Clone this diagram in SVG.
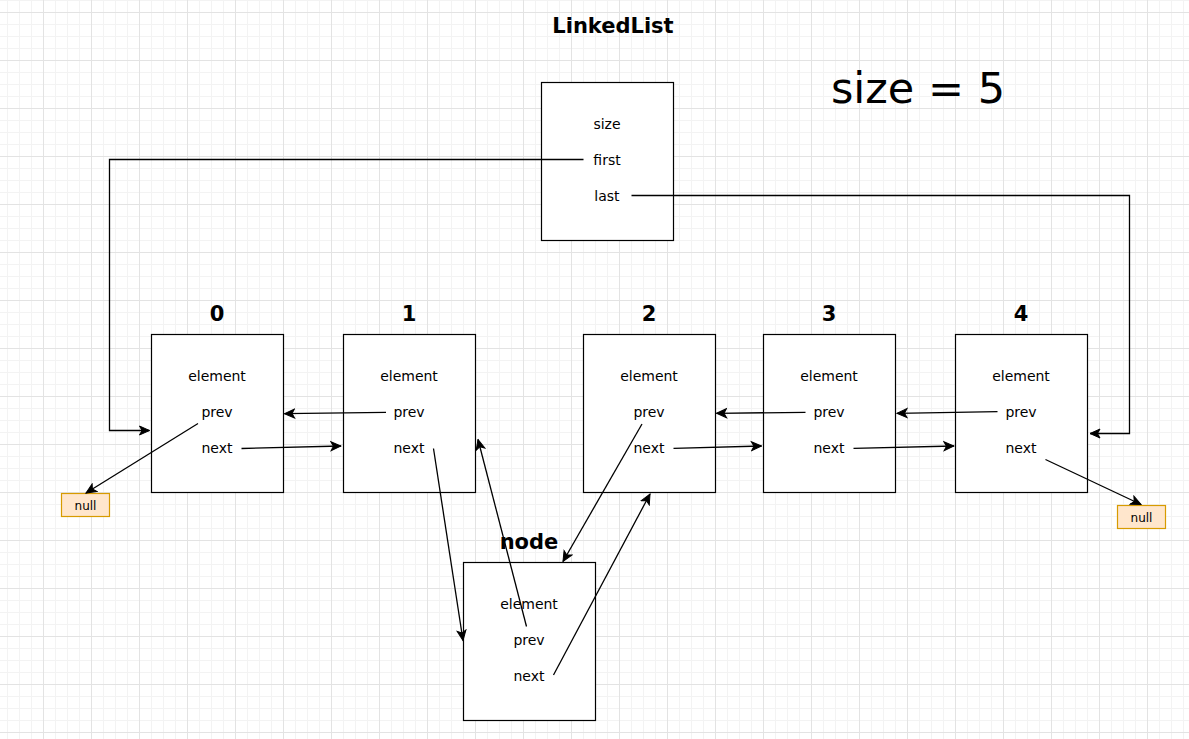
<svg xmlns="http://www.w3.org/2000/svg" width="1189" height="739" viewBox="0 0 1189 739">
<style>
.box{fill:#fff;stroke:#000;stroke-width:1.2}
.null{fill:#ffe6cc;stroke:#d79b00;stroke-width:1.2}
.t{font-family:"DejaVu Sans",Verdana,sans-serif;font-size:14px;fill:#000;text-anchor:middle}
.b{font-family:"DejaVu Sans",Verdana,sans-serif;font-size:21px;font-weight:bold;fill:#000;text-anchor:middle}
.n{font-family:"DejaVu Sans",Verdana,sans-serif;font-size:12px;fill:#000;text-anchor:middle}
.c{fill:none;stroke:#000;stroke-width:1.3;marker-end:url(#arr)}
</style>
<defs>
<pattern id="grid" patternUnits="userSpaceOnUse" x="43" y="12" width="48" height="48">
<path d="M12.5 0V48M24.5 0V48M36.5 0V48M0 12.5H48M0 24.5H48M0 36.5H48" stroke="#f3f3f3" stroke-width="1" fill="none"/>
<path d="M0.5 0V48M0 0.5H48" stroke="#e3e3e3" stroke-width="1" fill="none"/>
</pattern>
<marker id="arr" markerUnits="userSpaceOnUse" viewBox="-1 -6 12 12" markerWidth="12" markerHeight="12" refX="10" refY="0" orient="auto">
<path d="M0,-4.5 L10,0 L0,4.5 L2.5,0 Z" fill="#000" stroke="#000" stroke-width="1"/>
</marker>
</defs>
<rect width="1189" height="739" fill="#fff"/>
<rect width="1189" height="739" fill="url(#grid)"/>

<g id="title"><text class="b" x="613" y="33">LinkedList</text></g>
<g id="size-label"><text x="918" y="103" font-family="DejaVu Sans, Verdana, sans-serif" font-size="43" text-anchor="middle">size = 5</text></g>

<g id="list">
<rect class="box" x="541.5" y="82.5" width="132" height="158"/>
<text class="t" x="607" y="129">size</text>
<text class="t" x="607" y="165">first</text>
<text class="t" x="607" y="201">last</text>
</g>

<g id="node0">
<text class="b" x="217" y="321">0</text>
<rect class="box" x="151.5" y="334.5" width="132" height="158"/>
<text class="t" x="217" y="381">element</text>
<text class="t" x="217" y="417">prev</text>
<text class="t" x="217" y="453">next</text>
</g>
<g id="node1">
<text class="b" x="409" y="321">1</text>
<rect class="box" x="343.5" y="334.5" width="132" height="158"/>
<text class="t" x="409" y="381">element</text>
<text class="t" x="409" y="417">prev</text>
<text class="t" x="409" y="453">next</text>
</g>
<g id="node2">
<text class="b" x="649" y="321">2</text>
<rect class="box" x="583.5" y="334.5" width="132" height="158"/>
<text class="t" x="649" y="381">element</text>
<text class="t" x="649" y="417">prev</text>
<text class="t" x="649" y="453">next</text>
</g>
<g id="node3">
<text class="b" x="829" y="321">3</text>
<rect class="box" x="763.5" y="334.5" width="132" height="158"/>
<text class="t" x="829" y="381">element</text>
<text class="t" x="829" y="417">prev</text>
<text class="t" x="829" y="453">next</text>
</g>
<g id="node4">
<text class="b" x="1021" y="321">4</text>
<rect class="box" x="955.5" y="334.5" width="132" height="158"/>
<text class="t" x="1021" y="381">element</text>
<text class="t" x="1021" y="417">prev</text>
<text class="t" x="1021" y="453">next</text>
</g>
<g id="node">
<text class="b" x="529" y="549">node</text>
<rect class="box" x="463.5" y="562.5" width="132" height="158"/>
<text class="t" x="529" y="609">element</text>
<text class="t" x="529" y="645">prev</text>
<text class="t" x="529" y="681">next</text>
</g>
<g id="null-left">
<rect class="null" x="61.5" y="493.5" width="48" height="23"/>
<text class="n" x="85.5" y="509.5">null</text>
</g>
<g id="null-right">
<rect class="null" x="1117.5" y="505.5" width="48" height="23"/>
<text class="n" x="1141.5" y="521.5">null</text>
</g>

<g id="connectors">
<path class="c" d="M583.5 159.5H109.5V430.5H149.5"/>
<path class="c" d="M631.5 195.5H1129.5V433.5H1090"/>
<path class="c" d="M198 423.5L86 493"/>
<path class="c" d="M241.5 448.5L341 446"/>
<path class="c" d="M386 412.3L284.5 413.7"/>
<path class="c" d="M433.5 448.5L463 640.5"/>
<path class="c" d="M526.5 626.5L478 439.5"/>
<path class="c" d="M642 424L563 561.5"/>
<path class="c" d="M553.5 675L650 494"/>
<path class="c" d="M673.5 448.3L761.5 446"/>
<path class="c" d="M805.5 412.3L716.5 413.3"/>
<path class="c" d="M853.5 448.3L954 446"/>
<path class="c" d="M997.5 411.7L897 413.3"/>
<path class="c" d="M1045.5 459.5L1141 504.5"/>
</g>
</svg>
